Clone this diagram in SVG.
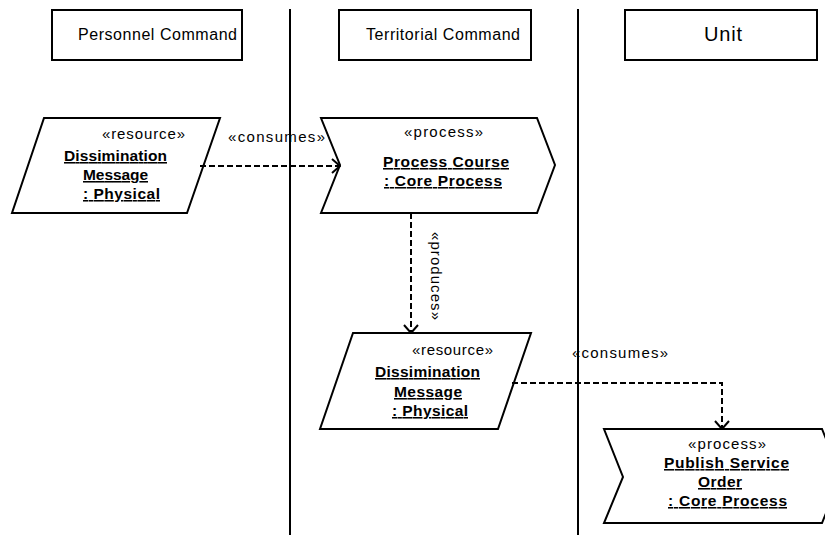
<svg xmlns="http://www.w3.org/2000/svg" width="825" height="535" viewBox="0 0 825 535">
<defs>
<style>
.shape{fill:#fff;stroke:#000;stroke-width:2}
.lane{stroke:#000;stroke-width:2}
.conn{fill:none;stroke:#000;stroke-width:2;stroke-dasharray:6 3}
text{font-family:"Liberation Sans",Arial,sans-serif;fill:#000}
.hdr{font-size:16px}
.st{font-size:15px}
.nm{font-size:15.5px;font-weight:bold;text-decoration:underline}
</style>
<marker id="arr" viewBox="0 0 10 16" refX="9" refY="8" markerWidth="10" markerHeight="16" markerUnits="userSpaceOnUse" orient="auto">
<path d="M1,1 L9,8 L1,15" fill="none" stroke="#000" stroke-width="2"/>
</marker>
</defs>
<rect width="825" height="535" fill="#fff"/>
<g id="lanes">
<line class="lane" x1="290" y1="9" x2="290" y2="535"/>
<line class="lane" x1="578" y1="9" x2="578" y2="535"/>
</g>
<g id="lane-personnel">
<rect class="shape" x="52" y="10" width="190" height="50"/>
<text class="hdr" x="78" y="40" textLength="159" lengthAdjust="spacing">Personnel Command</text>
</g>
<g id="lane-territorial">
<rect class="shape" x="339" y="10" width="192" height="50"/>
<text class="hdr" x="366" y="40" textLength="154" lengthAdjust="spacing">Territorial Command</text>
</g>
<g id="lane-unit">
<rect class="shape" x="625" y="10" width="192" height="50"/>
<text x="704" y="41" font-size="20" textLength="38" lengthAdjust="spacing">Unit</text>
</g>
<g id="res1">
<polygon class="shape" points="44,118 220,118 187,213 12,213"/>
<text class="st" x="102" y="139" textLength="83" lengthAdjust="spacing">«resource»</text>
<text class="nm" x="64" y="161" textLength="103" lengthAdjust="spacing">Dissimination</text>
<text class="nm" x="83" y="180" textLength="65" lengthAdjust="spacing">Message</text>
<text class="nm" x="83" y="199" textLength="77" lengthAdjust="spacing">: Physical</text>
</g>
<g id="proc1">
<polygon class="shape" points="321,118 537,118 555,165 537,213 321,213 340,165"/>
<text class="st" x="404" y="137" textLength="79" lengthAdjust="spacing">«process»</text>
<text class="nm" x="383" y="167" textLength="126" lengthAdjust="spacing">Process Course</text>
<text class="nm" x="384" y="186" textLength="118" lengthAdjust="spacing">: Core Process</text>
</g>
<g id="res2">
<polygon class="shape" points="353,333 531,333 498,429 320,429"/>
<text class="st" x="412" y="355" textLength="81" lengthAdjust="spacing">«resource»</text>
<text class="nm" x="375" y="377" textLength="105" lengthAdjust="spacing">Dissimination</text>
<text class="nm" x="394" y="397" textLength="68" lengthAdjust="spacing">Message</text>
<text class="nm" x="392" y="416" textLength="76" lengthAdjust="spacing">: Physical</text>
</g>
<g id="proc2">
<polygon class="shape" points="604,429 822,429 841,476 822,523 604,523 623,477"/>
<text class="st" x="688" y="449" textLength="78" lengthAdjust="spacing">«process»</text>
<text class="nm" x="664" y="468" textLength="125" lengthAdjust="spacing">Publish Service</text>
<text class="nm" x="698" y="487" textLength="44" lengthAdjust="spacing">Order</text>
<text class="nm" x="668" y="506" textLength="119" lengthAdjust="spacing">: Core Process</text>
</g>
<g id="connectors">
<path class="conn" d="M200,166 L340,166" marker-end="url(#arr)"/>
<text class="st" x="228" y="142" textLength="97" lengthAdjust="spacing">«consumes»</text>
<path class="conn" d="M411,213 L411,333" marker-end="url(#arr)"/>
<text class="st" transform="translate(431,232) rotate(90)" x="0" y="0" textLength="88" lengthAdjust="spacing">«produces»</text>
<path class="conn" d="M512,383 L722,383 L722,429" marker-end="url(#arr)"/>
<text class="st" x="572" y="358" textLength="96" lengthAdjust="spacing">«consumes»</text>
</g>
</svg>
